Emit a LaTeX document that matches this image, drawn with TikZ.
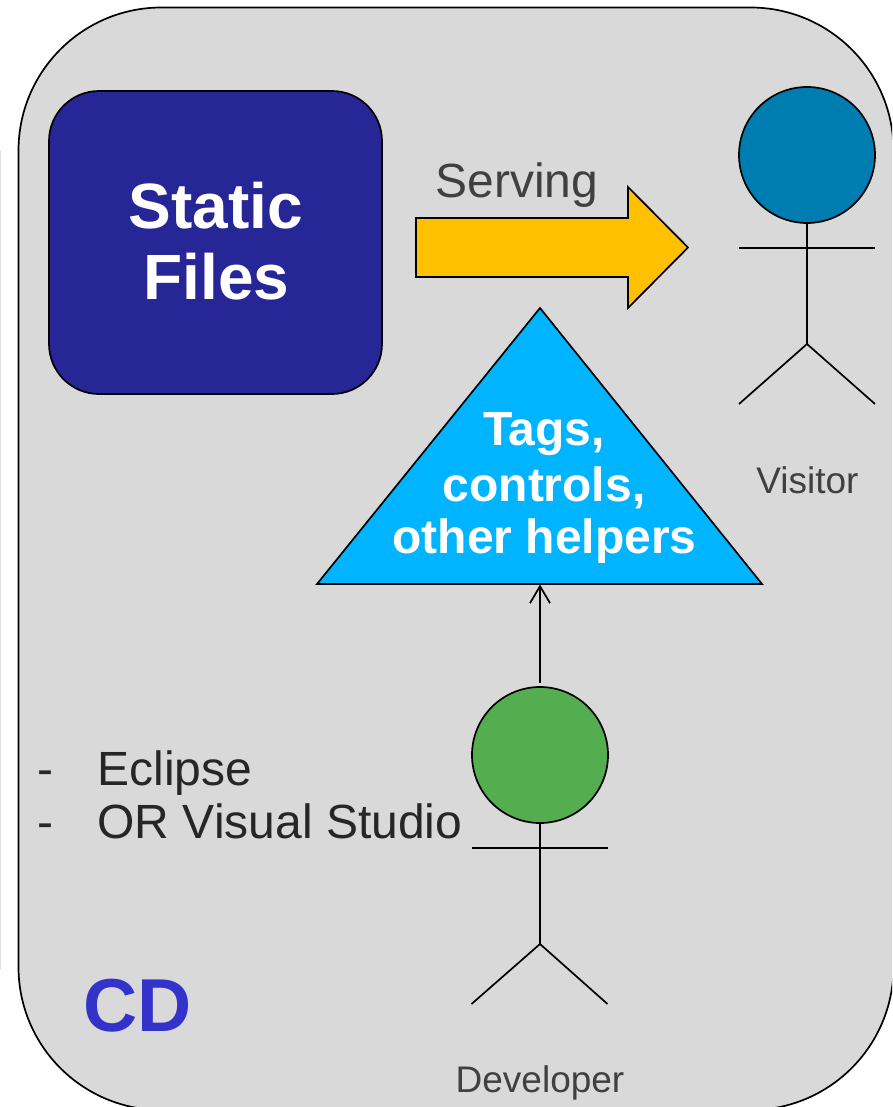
\documentclass[tikz,border=0pt]{standalone}
\usepackage{fontspec}
\setmainfont{Liberation Sans}
\usetikzlibrary{arrows.meta}
\definecolor{panelgray}{HTML}{D9D9D9}
\definecolor{boxblue}{HTML}{262696}
\definecolor{gold}{HTML}{FFC000}
\definecolor{skyblue}{HTML}{00B4FF}
\definecolor{visitorblue}{HTML}{007DB0}
\definecolor{devgreen}{HTML}{54AE50}
\definecolor{cdblue}{HTML}{3333CC}
\definecolor{labelgray}{HTML}{404040}
\definecolor{listgray}{HTML}{262626}
\tikzset{
  outline/.style={draw=black,line width=1.7pt},
  head/.style={circle,outline,inner sep=0pt,minimum size=136pt},
  limb/.style={draw=black,line width=1.7pt},
  whitebold/.style={text=white,font=\bfseries,align=center},
}
\newcommand{\fs}[1]{\fontsize{#1}{#1}\selectfont}
\begin{document}
\begin{tikzpicture}[x=1pt,y=-1pt]
\useasboundingbox (0,0) rectangle (892,1107);
\clip (0,0) rectangle (892,1107);
% faint edge line
\coordinate (edgeA) at (0.5,150);
\coordinate (edgeB) at (0.5,970);
\draw[draw=black!12,line width=1pt] (edgeA) -- (edgeB);
% panel
\draw[outline,fill=panelgray,rounded corners=143pt] (18.5,7.5) rectangle (893.5,1110);
% static files
\node[outline,fill=boxblue,rounded corners=50pt,minimum width=333pt,minimum height=303pt,inner sep=0pt,
  whitebold,anchor=center] (static) at (215.5,242.5) {};
\node[whitebold,font=\bfseries\fs{64}] (staticA) at (216,206) {Static};
\node[whitebold,font=\bfseries\fs{64}] (staticB) at (216.5,277) {Files};
% serving arrow
\draw[outline,fill=gold] (416,218) -- (628,218) -- (628,187) -- (688,247.5) -- (628,308) -- (628,277) -- (416,277) -- cycle;
\node[text=labelgray,font=\fs{48}] (serving) at (517,185) {Serving};
% triangle
\coordinate (apex) at (540,308);
\coordinate (baseL) at (317,584);
\coordinate (baseR) at (762,584);
\coordinate (baseM) at (540,584.5);
\draw[outline,fill=skyblue] (apex) -- (baseR) -- (baseL) -- cycle;
\node[whitebold,font=\bfseries\fs{48}] (tagsA) at (544,434) {Tags,};
\node[whitebold,font=\bfseries\fs{48}] (tagsB) at (544,488) {controls,};
\node[whitebold,font=\bfseries\fs{48}] (tagsC) at (544.5,541) {other helpers};
% visitor
\node[head,fill=visitorblue] (vhead) at (807,155) {};
\coordinate (vhip) at (807,344);
\coordinate (vla) at (739,248);
\coordinate (vra) at (875,248);
\coordinate (vll) at (739,404);
\coordinate (vrl) at (875,404);
\draw[limb] (vhead.south) -- (vhip);
\draw[limb] (vla) -- (vra);
\draw[limb] (vll) -- (vhip) -- (vrl);
\node[text=labelgray,font=\fs{37}] (visitor) at (807.5,480) {Visitor};
% developer
\node[head,fill=devgreen] (dhead) at (540,755) {};
\coordinate (dhip) at (540,944);
\coordinate (dla) at (471.5,848);
\coordinate (dra) at (607.5,848);
\coordinate (dll) at (471.5,1004);
\coordinate (drl) at (607.5,1004);
\draw[limb] (dhead.south) -- (dhip);
\draw[limb] (dla) -- (dra);
\draw[limb] (dll) -- (dhip) -- (drl);
\node[text=labelgray,font=\fs{37}] (developer) at (540,1083) {Developer};
% arrow
\draw[limb,-{Straight Barb[length=17pt,width=20pt,line width=1.7pt]},shorten <=3pt] (dhead.north) -- (baseM);
% list
\node[text=listgray,font=\fs{48},anchor=base west] (dashA) at (34,785) {-};
\node[text=listgray,font=\fs{48},anchor=base west] (eclipse) at (94,785) {Eclipse};
\node[text=listgray,font=\fs{48},anchor=base west] (dashB) at (34,838) {-};
\node[text=listgray,font=\fs{48},anchor=base west] (vs) at (94,838) {OR Visual Studio};
% CD
\node[text=cdblue,font=\bfseries\fs{75},anchor=base] (cd) at (138,1031) {CD};
\end{tikzpicture}
\end{document}
